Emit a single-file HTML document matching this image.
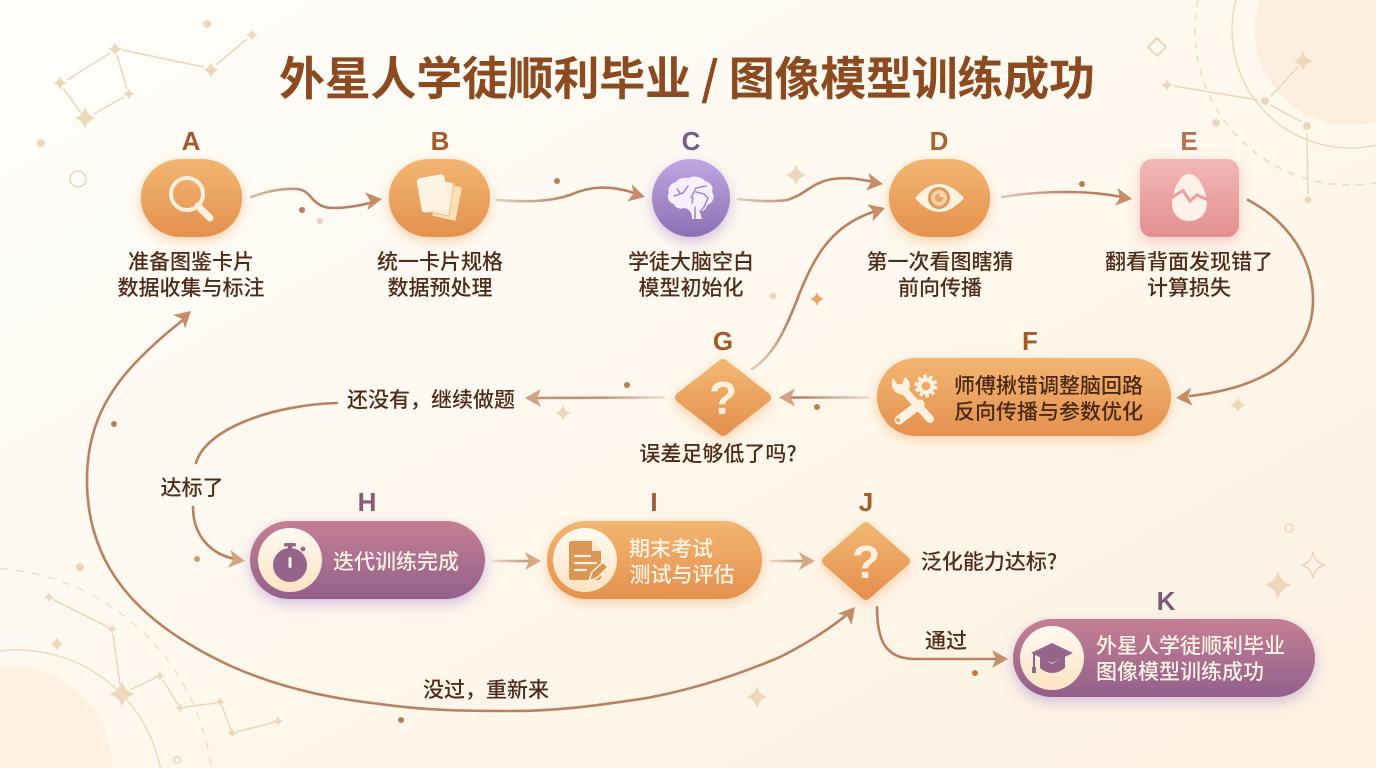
<!DOCTYPE html>
<html lang="zh-CN"><head><meta charset="utf-8"><title>外星人学徒顺利毕业 / 图像模型训练成功</title>
<style>
html,body{margin:0;padding:0;width:1376px;height:768px;overflow:hidden;background:#fef7ec}
svg{display:block}
text{font-family:"Liberation Sans","Noto Sans CJK SC",sans-serif}
.l{font-size:21px;fill:#4f2c19;text-anchor:middle;font-weight:500;font-family:"Noto Sans CJK SC","Liberation Sans",sans-serif}
.w{font-size:21px;fill:#fff3e4;text-anchor:middle;font-weight:500;font-family:"Noto Sans CJK SC","Liberation Sans",sans-serif}
.d{font-size:21px;fill:#4a2812;text-anchor:middle;font-weight:500;font-family:"Noto Sans CJK SC","Liberation Sans",sans-serif}
.k{font-size:26px;font-weight:700;text-anchor:middle}
.c{fill:none;stroke:#b9815f;stroke-width:2.6;stroke-linecap:round}
</style></head><body>
<svg width="1376" height="768" viewBox="0 0 1376 768" xmlns="http://www.w3.org/2000/svg">
<defs>
<linearGradient id="bg" x1="0" y1="0" x2="1" y2="1"><stop offset="0" stop-color="#fffefb"/><stop offset=".5" stop-color="#fef8ee"/><stop offset="1" stop-color="#fdf1e0"/></linearGradient>
<linearGradient id="o" x1="0" y1="0" x2="0" y2="1"><stop offset="0" stop-color="#f2b672"/><stop offset="1" stop-color="#e5914f"/></linearGradient>
<linearGradient id="p" x1="0" y1="0" x2="0" y2="1"><stop offset="0" stop-color="#bfa8e2"/><stop offset="1" stop-color="#8d6fb4"/></linearGradient>
<linearGradient id="r" x1="0" y1="0" x2="0" y2="1"><stop offset="0" stop-color="#f2b9b7"/><stop offset="1" stop-color="#e48f90"/></linearGradient>
<linearGradient id="m" x1="0" y1="0" x2="0" y2="1"><stop offset="0" stop-color="#c67f93"/><stop offset="1" stop-color="#92608c"/></linearGradient>
<linearGradient id="b" x1="0" y1="0" x2="0" y2="1"><stop offset="0" stop-color="#fffaf3"/><stop offset="1" stop-color="#fde3c2"/></linearGradient>
<linearGradient id="f1" gradientUnits="userSpaceOnUse" x1="251" y1="0" x2="310" y2="0"><stop offset="0" stop-color="#d9c0ae"/><stop offset="1" stop-color="#b9815f"/></linearGradient>
<linearGradient id="f2" gradientUnits="userSpaceOnUse" x1="497" y1="0" x2="570" y2="0"><stop offset="0" stop-color="#e2cdbd"/><stop offset="1" stop-color="#b9815f"/></linearGradient>
<linearGradient id="f3" gradientUnits="userSpaceOnUse" x1="738" y1="0" x2="800" y2="0"><stop offset="0" stop-color="#e2cdbd"/><stop offset="1" stop-color="#b9815f"/></linearGradient>
<linearGradient id="f4" gradientUnits="userSpaceOnUse" x1="1001" y1="0" x2="1070" y2="0"><stop offset="0" stop-color="#e2cdbd"/><stop offset="1" stop-color="#b9815f"/></linearGradient>
<linearGradient id="f5" gradientUnits="userSpaceOnUse" x1="868" y1="0" x2="800" y2="0"><stop offset="0" stop-color="#ebdccf"/><stop offset="1" stop-color="#b9815f"/></linearGradient>
<linearGradient id="f6" gradientUnits="userSpaceOnUse" x1="664" y1="0" x2="600" y2="0"><stop offset="0" stop-color="#ebdccf"/><stop offset="1" stop-color="#c29273"/></linearGradient>
<linearGradient id="f7" gradientUnits="userSpaceOnUse" x1="493" y1="0" x2="530" y2="0"><stop offset="0" stop-color="#eadccd"/><stop offset="1" stop-color="#c29273"/></linearGradient>
<linearGradient id="f8" gradientUnits="userSpaceOnUse" x1="770" y1="0" x2="805" y2="0"><stop offset="0" stop-color="#eadccd"/><stop offset="1" stop-color="#c29273"/></linearGradient>
<linearGradient id="f9" gradientUnits="userSpaceOnUse" x1="0" y1="369" x2="0" y2="320"><stop offset="0" stop-color="#dfcabb"/><stop offset="1" stop-color="#b9815f"/></linearGradient>
<filter id="so" x="-30%" y="-30%" width="160%" height="170%"><feDropShadow dx="0" dy="4" stdDeviation="6" flood-color="#eb9a4e" flood-opacity=".42"/></filter>
<filter id="sp" x="-30%" y="-30%" width="160%" height="170%"><feDropShadow dx="0" dy="5" stdDeviation="7" flood-color="#9a70c4" flood-opacity=".42"/></filter>
<filter id="sr" x="-30%" y="-30%" width="160%" height="170%"><feDropShadow dx="0" dy="5" stdDeviation="7" flood-color="#e58f90" flood-opacity=".42"/></filter>
<path id="s" d="M0 -1Q.2 -.2 1 0Q.2 .2 0 1Q-.2 .2 -1 0Q-.2 -.2 0 -1Z"/>
<path id="a" d="M0 0L-16 -9L-12 0L-16 9Z"/>
</defs>
<rect width="1376" height="768" fill="url(#bg)"/>

<!-- corner decor -->
<path d="M1259.900 0A95 95 0 0 0 1376 121.400L1376 0Z" fill="#fdefdd"/>
<path d="M1235.900 0A118 118 0 0 0 1376 145.100" fill="none" stroke="#eed9bf" stroke-width="1.5"/>
<path d="M1197.900 0A155 155 0 0 0 1376 182.800" fill="none" stroke="#eed9bf" stroke-width="1.5" stroke-dasharray="7 7"/>
<path d="M0 665.300A105 105 0 0 1 113 768L0 768Z" fill="#fdf1e2"/>
<path d="M0 651A146 146 0 0 1 160.300 768" fill="none" stroke="#eed9bf" stroke-width="1.5"/>
<path d="M0 568.600A229 229 0 0 1 211.200 768" fill="none" stroke="#efdfca" stroke-width="1.5" stroke-dasharray="8 8"/>

<g stroke="#ecd6ba" stroke-width="1.5" fill="none">
<path d="M67 80L110 53M63 88L81 113M94 114L124 97M117 55L127 89M122 50L204 67M216 65L247 39"/>
<path d="M1174 86L1258 100M1271 96L1298 67M1270 105L1302 122M1307 133L1308 194"/>
<path d="M52 599L110 628M113 634L120 685M130 690L157 677M163 680L178 705M184 707L216 703M222 706L231 730M236 732L275 722"/>
<circle cx="78" cy="179" r="8"/>
<path d="M1157 38L1166 47L1157 56L1148 47Z" stroke-width="2"/>
<circle cx="177" cy="760" r="3.4"/>
<circle cx="1289" cy="528" r="4"/>
<path d="M1313 552Q1315 563 1325 565Q1315 567 1313 578Q1311 567 1301 565Q1311 563 1313 552Z"/>
</g>
<g fill="#eed8bc">
<use href="#s" transform="translate(115 49) scale(7)"/><use href="#s" transform="translate(60 83) scale(7)"/>
<use href="#s" transform="translate(85 118) scale(11)"/><use href="#s" transform="translate(129 94) scale(6)"/>
<use href="#s" transform="translate(211 70) scale(8)"/><use href="#s" transform="translate(252 35) scale(6)"/>
<use href="#s" transform="translate(1303 61) scale(10)"/><use href="#s" transform="translate(1167 85) scale(6)"/>
<use href="#s" transform="translate(49 597) scale(5)"/><use href="#s" transform="translate(112 629) scale(5)"/>
<use href="#s" transform="translate(57 644) scale(7)"/><use href="#s" transform="translate(122 694) scale(13)"/>
<use href="#s" transform="translate(160 676) scale(5)"/><use href="#s" transform="translate(180 708) scale(5)"/>
<use href="#s" transform="translate(220 702) scale(5)"/><use href="#s" transform="translate(232 733) scale(5)"/>
<use href="#s" transform="translate(278 721) scale(5)"/>
<use href="#s" transform="translate(1278 585) scale(14)"/>
<use href="#s" transform="translate(796 175) scale(11)"/><use href="#s" transform="translate(563 413) scale(8)"/>
<use href="#s" transform="translate(1238 405) scale(8)"/><use href="#s" transform="translate(757 697) scale(11)"/>
<circle cx="207" cy="24" r="4"/><circle cx="41" cy="143" r="4"/><circle cx="1265" cy="101" r="4"/>
<circle cx="1307" cy="126" r="4"/><circle cx="1308" cy="200" r="3.5"/><circle cx="1216" cy="123" r="4"/>
<circle cx="80" cy="567" r="4"/><circle cx="773" cy="296" r="3.5"/>
</g>
<use href="#s" transform="translate(817 299) scale(7)" fill="#e8a566"/>
<g fill="#b97e58">
<circle cx="302" cy="210" r="3"/><circle cx="557" cy="181" r="3"/><circle cx="1082" cy="184" r="3"/>
<circle cx="627" cy="385" r="3"/><circle cx="817" cy="407" r="3"/><circle cx="114" cy="424" r="3"/>
<circle cx="197" cy="559" r="3" fill="#d09a6a"/><circle cx="401" cy="720" r="3"/><circle cx="975" cy="673" r="3" fill="#c77a40"/>
</g>
<circle cx="320" cy="221" r="3" fill="#ead2c8"/>

<!-- title -->
<text x="279" y="95" textLength="816" lengthAdjust="spacing" font-size="46" font-weight="700" fill="#8b4a1f" style="font-family:'Noto Sans CJK SC','Liberation Sans',sans-serif">外星人学徒顺利毕业 / 图像模型训练成功</text>

<!-- connectors -->
<path class="c" style="stroke:url(#f1)" d="M251 197C265 192 282 188 297 189C308 190 311 199 317 203C322 207 328 208 333 208C345 208 358 206 370 203"/>
<path class="c" style="stroke:url(#f2)" d="M497 200C525 202 550 202 570 195C590 186 610 185 634 193"/>
<path class="c" style="stroke:url(#f3)" d="M738 199C755 201 772 202 787 200C805 195 812 182 833 179C848 177 860 179 873 182"/>
<path class="c" style="stroke:url(#f9)" d="M752 369C775 355 787 325 797 300C812 260 830 226 873 212"/>
<path class="c" style="stroke:url(#f4)" d="M1002 197C1025 193 1045 192 1067 192C1085 192 1102 193 1122 197"/>
<path class="c" d="M1248 200C1290 222 1313 260 1313 300C1313 360 1260 388 1190 396"/>
<path class="c" style="stroke:url(#f5)" d="M868 397.500L790 397.500"/>
<path class="c" style="stroke:url(#f6)" d="M664 397.500L535 398"/>
<path class="c" d="M337 403C270 405 205 430 196 463"/>
<path class="c" d="M193 507C193 535 210 554 235 559"/>
<path class="c" style="stroke:url(#f7)" d="M493 561L532 561"/>
<path class="c" style="stroke:url(#f8)" d="M770 561L806 561"/>
<path class="c" d="M877 607C877 640 885 659 915 659L997 659"/>
<path class="c" d="M183 320C160 338 150 348 143 355C105 392 87 430 87 480C87 560 130 620 233 667C290 692 345 700 380 704C430 711 470 711 513 711C560 711 600 705 647 698C700 688 745 672 780 657C810 642 835 625 850 612"/>
<g fill="#c98c68">
<use href="#a" transform="translate(382 199) rotate(-8)"/>
<use href="#a" transform="translate(645 197) rotate(15)"/>
<use href="#a" transform="translate(883 184) rotate(8)"/>
<use href="#a" transform="translate(885 208) rotate(-18)"/>
<use href="#a" transform="translate(1132 199) rotate(8)"/>
<use href="#a" transform="translate(1176 398) rotate(175)"/>
<use href="#a" transform="translate(779 397.500) rotate(180)" fill="#d4a286"/>
<use href="#a" transform="translate(525 398) rotate(180)" fill="#d4a286"/>
<use href="#a" transform="translate(245 561) rotate(8)" fill="#d9a382"/>
<use href="#a" transform="translate(541 561)" fill="#d9a888"/>
<use href="#a" transform="translate(815 561)" fill="#d9a888"/>
<use href="#a" transform="translate(1008 659)"/>
<use href="#a" transform="translate(855 607) rotate(-50)"/>
<use href="#a" transform="translate(191 311) rotate(-42)"/>
</g>

<!-- nodes -->
<rect x="141" y="159" width="101" height="78" rx="40" ry="38" fill="url(#o)" filter="url(#so)"/>
<rect x="389" y="159" width="101" height="78" rx="40" ry="38" fill="url(#o)" filter="url(#so)"/>
<circle cx="691" cy="198" r="39" fill="url(#p)" filter="url(#sp)"/>
<rect x="889" y="159" width="101" height="78" rx="40" ry="38" fill="url(#o)" filter="url(#so)"/>
<rect x="1140" y="159" width="99" height="78" rx="12" fill="url(#r)" filter="url(#sr)"/>
<rect x="877" y="358" width="294" height="78" rx="39" fill="url(#o)" filter="url(#so)"/>
<path d="M723 364L766 397.500L723 431L680 397.500Z" fill="url(#o)" stroke="url(#o)" stroke-width="10" stroke-linejoin="round" filter="url(#so)"/>
<rect x="250" y="521" width="235" height="78" rx="39" fill="url(#m)" filter="url(#sp)"/>
<rect x="547" y="521" width="215" height="78" rx="39" fill="url(#o)" filter="url(#so)"/>
<path d="M866 527L905 561L866 595L827 561Z" fill="url(#o)" stroke="url(#o)" stroke-width="10" stroke-linejoin="round" filter="url(#so)"/>
<rect x="1013" y="619" width="302" height="78" rx="39" fill="url(#m)" filter="url(#sp)"/>

<!-- icons -->
<circle cx="187" cy="194" r="16" fill="none" stroke="#fff0dc" stroke-width="4"/>
<path d="M198 206L210 218" stroke="#fff0dc" stroke-width="7" stroke-linecap="round"/>

<g stroke-linejoin="round">
<path d="M445 184L461 188L455 220L433 215Z" fill="#fde0b8" stroke="#fde0b8" stroke-width="1.500"/>
<path d="M440 180L454 183L449 216L430 212Z" fill="#fdeed8" stroke="#eeb176" stroke-width=".8"/>
<rect x="419" y="176" width="28" height="35" rx="3.500" transform="rotate(-10 433 193)" fill="#fff3e4"/>
</g>

<path d="M676 182C680 177 686 178 689 178C694 175 702 177 705 181C711 182 714 188 712 192C716 197 712 204 707 205C706 210 703 211 700 212L702 219L692 219C692 213 690 209 684 208C680 210 674 207 674 204C669 203 666 197 669 193C667 188 671 183 676 182Z" fill="#f7effb"/>
<path d="M674 196L683 193L688 186M680 193L677 189M691 198L696 188L706 186M696 192L704 194L708 198L704 207L700 212M693 198L692 203M695 219L695 207" fill="none" stroke="#9f87c8" stroke-width="1.500" stroke-linecap="round"/>

<path d="M915 198Q939 170 964 198Q939 226 915 198Z" fill="#fff1de"/>
<circle cx="939" cy="198" r="9.500" fill="#f6d2a4" stroke="#dc9a5c" stroke-width="3"/>
<circle cx="939" cy="198" r="4.200" fill="#e4a66c"/><circle cx="941.500" cy="195.500" r="1.500" fill="#fff1de"/>

<path d="M1189 174C1200 174 1207 195 1207 203C1207 214 1199 221 1189 221C1179 221 1172 214 1172 203C1172 195 1178 174 1189 174Z" fill="#fff0ea"/>
<path d="M1171 198L1183 190.500L1190 201L1197 195L1208 200" fill="none" stroke="#eba3a0" stroke-width="3.200"/>

<text x="723" y="414" font-size="46" font-weight="700" fill="#fff0dc" text-anchor="middle">?</text>
<text x="866" y="578" font-size="46" font-weight="700" fill="#fff0dc" text-anchor="middle">?</text>

<!-- wrench + gear -->
<g stroke="#fff1df" stroke-linecap="round" fill="none">
<path d="M902 388L930 419" stroke-width="8"/>
<path d="M920 404L899 420" stroke-width="9"/>
</g>
<path d="M893 378C890 385 893 392 899 394C904 396 909 392 910 386C910 382 908 379 905 377L902 384L897 384Z" fill="#fff1df"/>
<circle cx="898" cy="420" r="2" fill="#e9a262"/>
<circle cx="926" cy="386" r="6.500" fill="none" stroke="#fff1df" stroke-width="4.500"/>
<circle cx="926" cy="386" r="10" fill="none" stroke="#fff1df" stroke-width="3" stroke-dasharray="3.500 2.780"/>

<!-- stopwatch -->
<circle cx="290" cy="560" r="32" fill="url(#b)"/>
<circle cx="290" cy="565" r="17" fill="#96648a"/>
<rect x="284" y="543" width="12" height="3.500" rx="1.500" fill="#96648a"/><rect x="288" y="545" width="4" height="5" fill="#96648a"/>
<circle cx="303" cy="549" r="2.400" fill="#96648a"/>
<rect x="288.500" y="557" width="3" height="11" rx="1.500" fill="#fff3e4"/>

<!-- doc -->
<circle cx="585" cy="560" r="32" fill="url(#b)"/>
<path d="M572 541H592L601 551V577Q601 580 598 580H572Q569 580 569 577V544Q569 541 572 541Z" fill="#dc9653"/>
<path d="M592 541V551H601Z" fill="#fde9cf"/>
<path d="M575 556H590M575 563H596M575 570H586" stroke="#fff1df" stroke-width="2.200" stroke-linecap="round"/>
<path d="M589 581L592 572L603 562L608 567L597 578Z" fill="#dc9653" stroke="#fff6ea" stroke-width="1.500"/>

<!-- cap -->
<circle cx="1052" cy="658" r="32" fill="url(#b)"/>
<path d="M1040 656V668Q1052 678 1065 668V656L1052 664Z" fill="#96648a"/>
<path d="M1052 643L1073 653L1052 663L1031 653Z" fill="#96648a"/>
<path d="M1034 654V668" stroke="#96648a" stroke-width="2"/><rect x="1032" y="667" width="4" height="6" fill="#96648a"/>

<!-- key letters -->
<g style="font-family:'Liberation Sans',sans-serif">
<text class="k" x="191" y="150" fill="#a65a2a">A</text>
<text class="k" x="440" y="150" fill="#a65a2a">B</text>
<text class="k" x="691" y="150" fill="#7a5a8c">C</text>
<text class="k" x="939" y="150" fill="#a8642f">D</text>
<text class="k" x="1189" y="150" fill="#b8704f">E</text>
<text class="k" x="1030" y="350" fill="#a65a2a">F</text>
<text class="k" x="723" y="350" fill="#a65a2a">G</text>
<text class="k" x="367" y="511" fill="#8a5a7c">H</text>
<text class="k" x="654" y="511" fill="#9a5a3c">I</text>
<text class="k" x="866" y="511" fill="#a65a2a">J</text>
<text class="k" x="1166" y="610" fill="#80587a">K</text>
</g>

<!-- labels -->
<text class="l" x="191" y="269">准备图鉴卡片</text><text class="l" x="191" y="295">数据收集与标注</text>
<text class="l" x="440" y="269">统一卡片规格</text><text class="l" x="440" y="295">数据预处理</text>
<text class="l" x="691" y="269">学徒大脑空白</text><text class="l" x="691" y="295">模型初始化</text>
<text class="l" x="940" y="269">第一次看图瞎猜</text><text class="l" x="940" y="295">前向传播</text>
<text class="l" x="1189" y="269">翻看背面发现错了</text><text class="l" x="1189" y="295">计算损失</text>
<text class="d" x="1048.500" y="393">师傅揪错调整脑回路</text><text class="d" x="1048.500" y="419">反向传播与参数优化</text>
<text class="l" x="431" y="407">还没有，继续做题</text>
<text class="l" x="718" y="461">误差足够低了吗?</text>
<text class="l" x="192" y="495">达标了</text>
<text class="w" x="396" y="569">迭代训练完成</text>
<text class="w" x="671" y="556">期末考试</text><text class="w" x="682" y="582">测试与评估</text>
<text class="l" x="989" y="569">泛化能力达标?</text>
<text class="l" x="946" y="648">通过</text>
<text class="l" x="486" y="697">没过，重新来</text>
<text class="w" x="1190.500" y="653">外星人学徒顺利毕业</text><text class="w" x="1180" y="679">图像模型训练成功</text>
</svg>
</body></html>
